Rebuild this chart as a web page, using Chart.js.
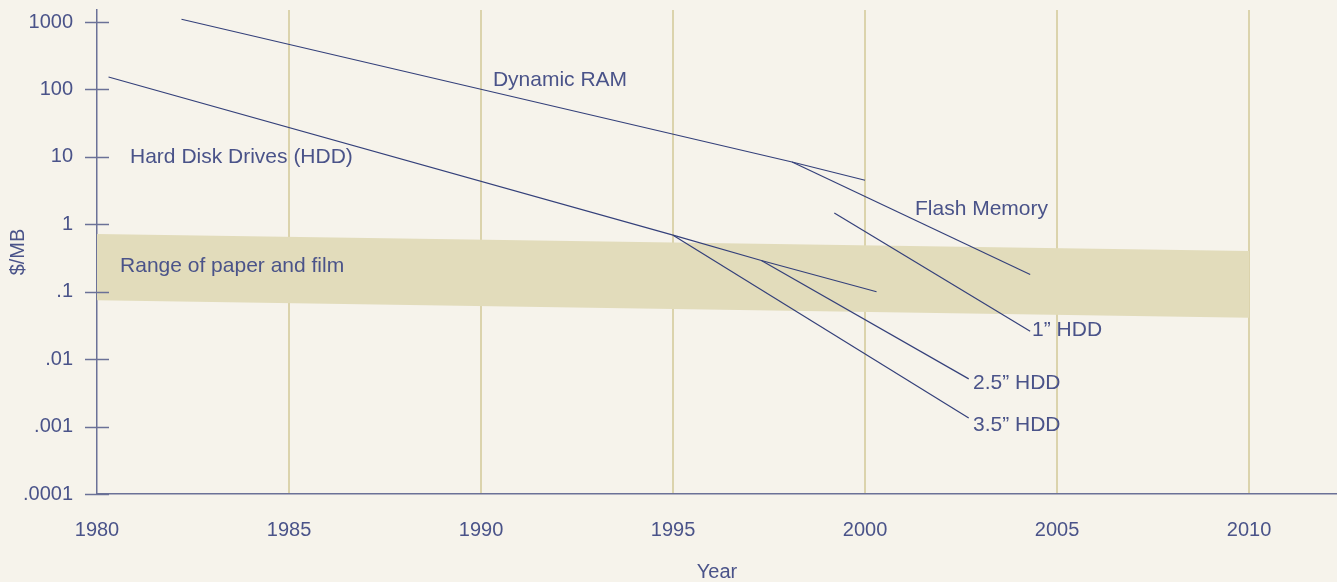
<!DOCTYPE html>
<html>
<head>
<meta charset="utf-8">
<script src="https://cdn.jsdelivr.net/npm/chart.js@4/dist/chart.umd.min.js"></script>
<style>
  html, body { margin: 0; padding: 0; background: #f6f3eb; }
  #wrap { width: 1337px; height: 582px; }
</style>
</head>
<body>
<div id="wrap"><canvas id="costChart"></canvas></div>
<script>
// data ($/MB, log scale)
const dramYears = [1982.2, 1998.1, 2000.0]
const dramCost = [1100, 8.4, 4.5]
const flashYears = [1998.1, 2004.3]
const flashCost = [8.4, 0.18]
const hddYears = [1980.3, 1995.0, 1997.3, 2000.3]
const hddCost = [153, 0.69, 0.29, 0.1]
const hdd25Years = [1997.3, 2002.7]
const hdd25Cost = [0.29, 0.0051]
const hdd35Years = [1995.0, 2002.7]
const hdd35Cost = [0.69, 0.00134]
const hdd1Years = [1999.2, 2004.3]
const hdd1Cost = [1.47, 0.026]
const paperYears = [1980, 2010]
const paperHigh = [0.72, 0.40]
const paperLow = [0.075, 0.041]

const yearTicks = [1980, 1985, 1990, 1995, 2000, 2005, 2010]
const costTicks = [0.0001, 0.001, 0.01, 0.1, 1, 10, 100, 1000]
const costLabels = ['.0001', '.001', '.01', '.1', '1', '10', '100', '1000']

// text labels, anchored at [year, $/MB]
const notes = [
    ['Dynamic RAM', 1990.31, 138],
    ['Hard Disk Drives (HDD)', 1980.86, 10],
    ['Flash Memory', 2001.3, 1.69],
    ['Range of paper and film', 1980.6, 0.24],
    ['1\u201D HDD', 2004.35, 0.027],
    ['2.5\u201D HDD', 2002.81, 0.0044],
    ['3.5\u201D HDD', 2002.81, 0.00105]
]

const ink = '#34407a'
const textCol = '#4a5389'
const axisCol = '#6b7197'
const font = 'Liberation Sans, Arial, Helvetica, sans-serif'

const pts = (xs, ys) => xs.map((x, i) => ({ x, y: ys[i] }))

function series(label, xs, ys) {
    return {
        label,
        data: pts(xs, ys),
        borderColor: ink,
        borderWidth: 1.2,
        pointRadius: 0,
        fill: false,
        tension: 0
    }
}

const bgPlugin = {
    id: 'bg',
    beforeDraw(chart) {
        const c = chart.ctx
        c.save()
        c.fillStyle = '#f6f3eb'
        c.fillRect(0, 0, chart.width, chart.height)
        c.restore()
    }
}

const marksPlugin = {
    id: 'marks',
    afterDraw(chart) {
        const c = chart.ctx
        const xs = chart.scales.x
        const ys = chart.scales.y
        const left = chart.chartArea.left
        c.save()
        // crossing tick marks on the y axis
        c.strokeStyle = axisCol
        c.lineWidth = 1.5
        ys.ticks.forEach(t => {
            const py = Math.round(ys.getPixelForValue(t.value)) + 0.5
            c.beginPath()
            c.moveTo(left - 12, py)
            c.lineTo(left + 12, py)
            c.stroke()
        })
        // notes
        c.fillStyle = textCol
        c.font = '21px ' + font
        c.textAlign = 'left'
        c.textBaseline = 'middle'
        notes.forEach(([txt, x, y]) => {
            c.fillText(txt, xs.getPixelForValue(x), ys.getPixelForValue(y))
        })
        c.restore()
    }
}

new Chart(document.getElementById('costChart'), {
    type: 'line',
    data: {
        datasets: [
            {
                label: 'paperHigh',
                data: pts(paperYears, paperHigh),
                borderWidth: 0,
                borderColor: 'rgba(0,0,0,0)',
                pointRadius: 0,
                fill: false
            },
            {
                label: 'paperLow',
                data: pts(paperYears, paperLow),
                borderWidth: 0,
                borderColor: 'rgba(0,0,0,0)',
                backgroundColor: '#e2dcbb',
                pointRadius: 0,
                fill: '-1'
            },
            series('Dynamic RAM', dramYears, dramCost),
            series('Flash Memory', flashYears, flashCost),
            series('HDD', hddYears, hddCost),
            series('2.5 HDD', hdd25Years, hdd25Cost),
            series('3.5 HDD', hdd35Years, hdd35Cost),
            series('1 HDD', hdd1Years, hdd1Cost)
        ]
    },
    options: {
        responsive: true,
        maintainAspectRatio: false,
        animation: false,
        layout: { padding: { top: 10, right: 0, left: 0, bottom: 0 } },
        scales: {
            x: {
                type: 'linear',
                min: 1980,
                max: 2012.29,
                afterBuildTicks: s => { s.ticks = yearTicks.map(v => ({ value: v })) },
                afterFit: s => { s.height = 88; s.paddingLeft = 0; s.paddingRight = 0 },
                ticks: {
                    color: textCol,
                    font: { family: font, size: 20 },
                    padding: 24,
                    callback: v => String(v)
                },
                grid: {
                    color: ctx => (ctx.tick && ctx.tick.value > 1980 ? '#dbd3ac' : 'rgba(0,0,0,0)'),
                    lineWidth: 2,
                    drawTicks: false
                },
                border: { color: axisCol, width: 1.5 },
                title: {
                    display: true,
                    text: 'Year',
                    color: textCol,
                    font: { family: font, size: 20, lineHeight: 1 },
                    padding: { top: 0, bottom: 0 }
                }
            },
            y: {
                type: 'logarithmic',
                min: 0.0001,
                max: 1507,
                afterBuildTicks: s => { s.ticks = costTicks.map(v => ({ value: v })) },
                afterFit: s => { s.width = 97; s.paddingTop = 0; s.paddingBottom = 0 },
                ticks: {
                    color: textCol,
                    font: { family: font, size: 20 },
                    padding: 24,
                    callback: v => costLabels[costTicks.indexOf(v)] ?? ''
                },
                grid: { drawOnChartArea: false, drawTicks: false },
                border: { color: axisCol, width: 1.5 },
                title: {
                    display: true,
                    text: '$/MB',
                    color: textCol,
                    font: { family: font, size: 20 },
                    padding: { top: 6, bottom: 0 }
                }
            }
        },
        plugins: {
            legend: { display: false },
            tooltip: { enabled: false },
            filler: { drawTime: 'beforeDatasetsDraw' }
        }
    },
    plugins: [bgPlugin, marksPlugin]
})
</script>
</body>
</html>
